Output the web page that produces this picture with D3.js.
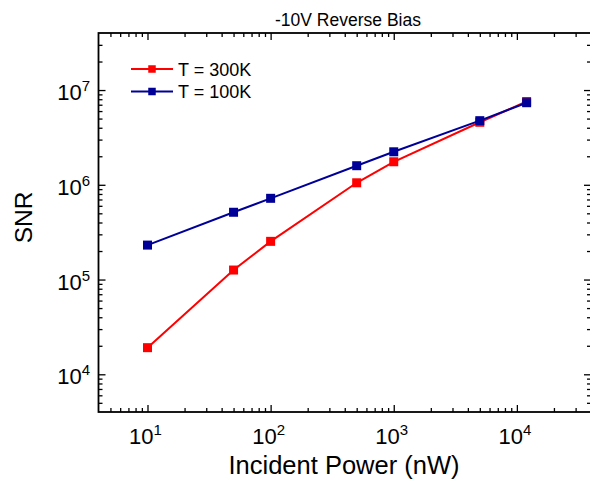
<!DOCTYPE html>
<html><head><meta charset="utf-8">
<script src="https://cdn.jsdelivr.net/npm/d3@7"></script>
<style>
html,body{margin:0;padding:0;background:#fff;}
svg{display:block;font-family:"Liberation Sans",Arial,Helvetica,sans-serif;}
</style></head>
<body>
<svg id="chart" width="590" height="479"></svg>
<script>
// ---- data ----
const power = [10, 50, 100, 500, 1000, 5000, 12000];          // nW
const snr300K = [1.91e4, 1.26e5, 2.53e5, 1.05e6, 1.75e6, 4.57e6, 7.57e6];
const snr100K = [2.31e5, 5.13e5, 7.2e5, 1.59e6, 2.23e6, 4.75e6, 7.35e6];
const seriesNames = ["T = 300K", "T = 100K"];
const seriesColors = ["#ff0000", "#000099"];
const xMajorTicks = [10, 100, 1000, 10000];
const yMajorTicks = [1e4, 1e5, 1e6, 1e7];
const titleText = "-10V Reverse Bias";
const xTitle = "Incident Power (nW)";
const yTitle = "SNR";

const svg = d3.select("#chart");
const L = 98.5, R = 591, T = 33, B = 412;
const x = d3.scaleLog().domain([4, 40000]).range([L, R]);
const y = d3.scaleLog().domain([4e3, 4e7]).range([B, T]);

function minors(lo, hi) {
  const out = [];
  for (let e = Math.floor(Math.log10(lo)); e <= Math.ceil(Math.log10(hi)); e++) {
    for (let k = 2; k <= 9; k++) {
      const v = k * Math.pow(10, e);
      if (v > lo * 1.0001 && v < hi * 0.9999) out.push(v);
    }
  }
  return out;
}
const xMinor = minors(4, 40000);
const yMinor = minors(4e3, 4e7);

const axisG = svg.append("g");
function styleAxis(g) {
  g.select(".domain").remove();
  g.selectAll(".tick line").attr("stroke", "#000").attr("stroke-width", 1.3);
}
// bottom
axisG.append("g").attr("transform", `translate(0,${B})`)
  .call(d3.axisBottom(x).tickValues(xMinor).tickSize(-4).tickFormat("")).call(styleAxis);
axisG.append("g").attr("transform", `translate(0,${B})`)
  .call(d3.axisBottom(x).tickValues(xMajorTicks).tickSize(-7).tickFormat("")).call(styleAxis);
// top
axisG.append("g").attr("transform", `translate(0,${T})`)
  .call(d3.axisTop(x).tickValues(xMinor).tickSize(-4).tickFormat("")).call(styleAxis);
axisG.append("g").attr("transform", `translate(0,${T})`)
  .call(d3.axisTop(x).tickValues(xMajorTicks).tickSize(-7).tickFormat("")).call(styleAxis);
// left
axisG.append("g").attr("transform", `translate(${L},0)`)
  .call(d3.axisLeft(y).tickValues(yMinor).tickSize(-4).tickFormat("")).call(styleAxis);
axisG.append("g").attr("transform", `translate(${L},0)`)
  .call(d3.axisLeft(y).tickValues(yMajorTicks).tickSize(-7).tickFormat("")).call(styleAxis);
// right
axisG.append("g").attr("transform", `translate(${R},0)`)
  .call(d3.axisRight(y).tickValues(yMinor).tickSize(-4).tickFormat("")).call(styleAxis);
axisG.append("g").attr("transform", `translate(${R},0)`)
  .call(d3.axisRight(y).tickValues(yMajorTicks).tickSize(-7).tickFormat("")).call(styleAxis);

// frame
svg.append("rect").attr("x", L).attr("y", T).attr("width", R - L).attr("height", B - T)
  .attr("fill", "none").attr("stroke", "#000").attr("stroke-width", 1.8);

// tick labels
function powLabel(sel, v) {
  const e = Math.round(Math.log10(v));
  sel.append("tspan").text("10");
  sel.append("tspan").attr("font-size", 15).attr("dy", -9).text(e);
}
svg.append("g").selectAll("text").data(xMajorTicks).join("text")
  .attr("x", d => x(d) - 2).attr("y", 444).attr("text-anchor", "middle")
  .attr("font-size", 22).attr("fill", "#000")
  .each(function (d) { powLabel(d3.select(this), d); });
svg.append("g").selectAll("text").data(yMajorTicks).join("text")
  .attr("x", 90).attr("y", d => y(d) + 10).attr("text-anchor", "end")
  .attr("font-size", 22).attr("fill", "#000")
  .each(function (d) { powLabel(d3.select(this), d); });

// titles
svg.append("text").attr("x", 348).attr("y", 26).attr("text-anchor", "middle")
  .attr("font-size", 17.5).text(titleText);
svg.append("text").attr("x", 344).attr("y", 474).attr("text-anchor", "middle")
  .attr("font-size", 25.5).text(xTitle);
svg.append("text").attr("transform", "translate(32,217.5) rotate(-90)").attr("text-anchor", "middle")
  .attr("font-size", 24.5).text(yTitle);

// series
const series = [snr300K, snr100K];
const line = d3.line().x(d => x(d[0])).y(d => y(d[1]));
series.forEach((vals, i) => {
  const pts = power.map((p, j) => [p, vals[j]]);
  svg.append("path").datum(pts).attr("d", line).attr("fill", "none")
    .attr("stroke", seriesColors[i]).attr("stroke-width", 2);
  svg.append("g").selectAll("rect").data(pts).join("rect")
    .attr("x", d => x(d[0]) - 4.5).attr("y", d => y(d[1]) - 4.5)
    .attr("width", 9).attr("height", 9).attr("fill", seriesColors[i]);
});

// legend
const leg = svg.append("g");
seriesNames.forEach((name, i) => {
  const ly = 69 + i * 22.5;
  leg.append("line").attr("x1", 131).attr("x2", 173).attr("y1", ly).attr("y2", ly)
    .attr("stroke", seriesColors[i]).attr("stroke-width", 2);
  leg.append("rect").attr("x", 152 - 3.75).attr("y", ly - 3.75).attr("width", 7.5).attr("height", 7.5)
    .attr("fill", seriesColors[i]);
  leg.append("text").attr("x", 178).attr("y", ly + 6.5).attr("font-size", 18).text(name);
});
</script>
</body></html>
